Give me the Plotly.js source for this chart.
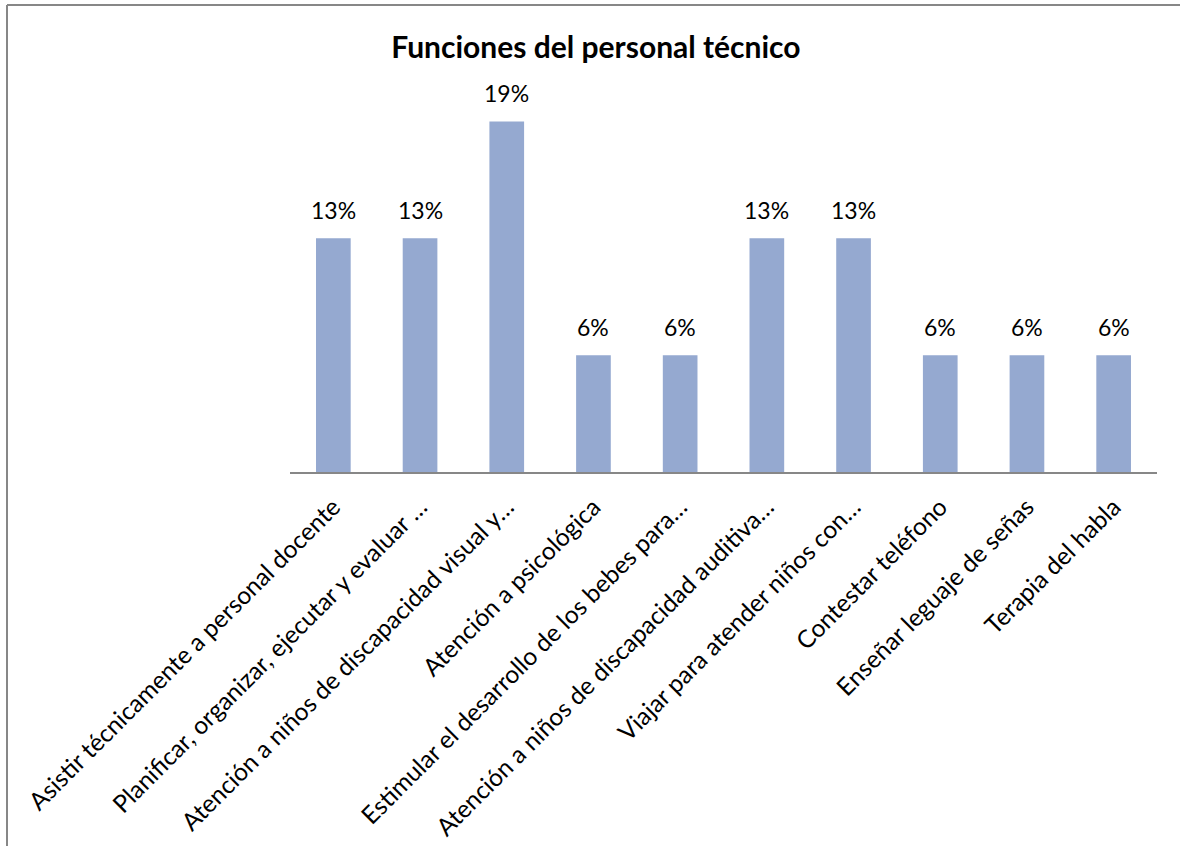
<!DOCTYPE html>
<html>
<head>
<meta charset="utf-8">
<script src="https://cdn.plot.ly/plotly-3.0.1.min.js"></script>
<style>
  html, body { margin: 0; padding: 0; background: #fff; overflow: hidden; }
  #chart { width: 1180px; height: 846px; }
</style>
</head>
<body>
<div id="chart"></div>
<script>
const categories = [
  "Asistir técnicamente a personal docente",
  "Planificar, organizar, ejecutar y evaluar …",
  "Atención a niños de discapacidad visual y…",
  "Atención a psicológica",
  "Estimular el desarrollo de los bebes para…",
  "Atención a niños de discapacidad auditiva…",
  "Viajar para atender niños con…",
  "Contestar teléfono",
  "Enseñar leguaje de señas",
  "Terapia del habla"
];
const shares = [0.125, 0.125, 0.1875, 0.0625, 0.0625, 0.125, 0.125, 0.0625, 0.0625, 0.0625];
const shareLabels = ["13%", "13%", "19%", "6%", "6%", "13%", "13%", "6%", "6%", "6%"];

const W = 1180, H = 846;
const M = { l: 290, r: 23, t: 98, b: 374 };
const pw = W - M.l - M.r, ph = H - M.t - M.b;
const px2x = p => (p - M.l) / pw;
const py2y = p => (H - M.b - p) / ph;

const trace = {
  type: "bar",
  x: categories,
  y: shares,
  marker: { color: "#95A9D0" },
  hoverinfo: "none"
};

const labelAnnotations = categories.map((c, i) => ({
  x: c, y: shares[i], xref: "x", yref: "y",
  text: shareLabels[i], showarrow: false,
  xanchor: "center", yanchor: "bottom", yshift: 12,
  font: { family: "Lato, sans-serif", size: 23, color: "#000" }
}));

const frameShapes = [
  { type: "line", xref: "paper", yref: "paper", x0: px2x(7), x1: px2x(1185), y0: py2y(5), y1: py2y(5),
    line: { color: "#878787", width: 2 } },
  { type: "line", xref: "paper", yref: "paper", x0: px2x(7), x1: px2x(7), y0: py2y(5), y1: py2y(850),
    line: { color: "#878787", width: 2 } }
];

const layout = {
  width: W,
  height: H,
  margin: { l: M.l, r: M.r, t: M.t, b: M.b, pad: 0 },
  paper_bgcolor: "#fff",
  plot_bgcolor: "rgba(0,0,0,0)",
  showlegend: false,
  bargap: 0.6,
  annotations: labelAnnotations,
  shapes: frameShapes,
  title: {
    text: "<b>Funciones del personal técnico</b>",
    font: { family: "Lato, sans-serif", size: 30, color: "#000" },
    xref: "container", x: 0.505, xanchor: "center",
    yref: "container", y: 1 - 47 / H, yanchor: "middle"
  },
  xaxis: {
    type: "category",
    showline: true, linecolor: "#878787", linewidth: 2,
    ticks: "", tickangle: -45, ticklabelstandoff: 9,
    tickfont: { family: "Lato, sans-serif", size: 24.5, color: "#000" },
    showgrid: false, zeroline: false, automargin: false
  },
  yaxis: {
    range: [0, 0.2], visible: false, showgrid: false, zeroline: false, automargin: false
  }
};

Plotly.newPlot("chart", [trace], layout, { staticPlot: true, displayModeBar: false });
</script>
</body>
</html>
